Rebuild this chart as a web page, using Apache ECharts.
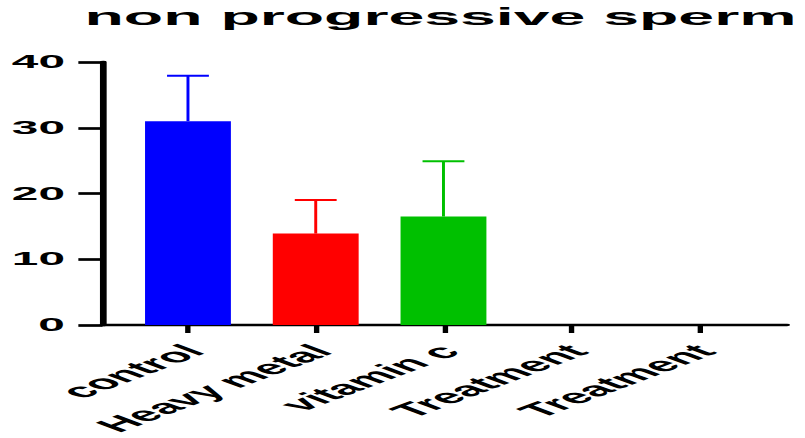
<!DOCTYPE html>
<html>
<head>
<meta charset="utf-8">
<script src="https://cdn.jsdelivr.net/npm/echarts@6/dist/echarts.min.js"></script>
<style>
  html, body { margin: 0; padding: 0; background: #fff; overflow: hidden; width: 805px; height: 438px; }
  #chart { width: 300px; height: 438px; transform: scaleX(2.6833); transform-origin: 0 0; }
</style>
</head>
<body>
<div id="chart"></div>
<script>
// ---- data ----
const titleText = 'non progressive sperm';
const categories = ['control', 'Heavy metal', 'vitamin c', 'Treatment', 'Treatment'];
const means = [31, 13.9, 16.5, 0, 0];
const errors = [6.9, 5.1, 8.4, 0, 0];
const yTicks = [0, 10, 20, 30, 40];
const palette = ['#0000FF', '#FF0000', '#00C000', '#000000', '#000000'];

const font = '"Liberation Sans", Arial, sans-serif';
const chart = echarts.init(document.getElementById('chart'), null, { renderer: 'svg' });

const catIdx = categories.map((_, i) => i);

const option = {
  animation: false,
  backgroundColor: '#fff',
  title: {
    text: titleText,
    left: 31.5,
    top: 5,
    padding: 0,
    textStyle: { fontFamily: font, fontWeight: 'bold', fontSize: 24, color: '#000' }
  },
  grid: { left: 38.2, right: 6.7, top: 62, bottom: 113, containLabel: false, outerBoundsMode: 'none' },
  xAxis: {
    type: 'value',
    min: -0.669,
    max: 4.689,
    splitLine: { show: false },
    axisLine: { show: true, onZero: false, lineStyle: { color: '#000', width: 2.3 } },
    axisTick: { show: true, customValues: catIdx, length: 8, lineStyle: { color: '#000', width: 2 } },
    axisLabel: {
      customValues: catIdx,
      formatter: v => categories[Math.round(v)],
      rotate: 45,
      margin: 25,
      padding: [0, -3, 0, 0],
      fontFamily: font,
      fontWeight: 'bold',
      fontSize: 19.5,
      color: '#000'
    }
  },
  yAxis: {
    type: 'value',
    min: yTicks[0],
    max: yTicks[yTicks.length - 1],
    interval: 10,
    splitLine: { show: false },
    axisLine: { show: true, onZero: false, lineStyle: { color: '#000', width: 2.5 } },
    axisTick: { show: true, length: 9, lineStyle: { color: '#000', width: 2.7 } },
    axisLabel: {
      margin: 14,
      fontFamily: font,
      fontWeight: 'bold',
      fontSize: 17.8,
      color: '#000',
      formatter: v => String(v)
    }
  },
  series: [
    {
      type: 'bar',
      barWidth: 32,
      data: means.map((v, i) => ({ value: [i, v], itemStyle: { color: palette[i] } })),
      z: 2
    },
    {
      type: 'custom',
      z: 3,
      data: means.map((v, i) => [i, v, errors[i]]),
      encode: { x: 0, y: 1 },
      renderItem: function (params, api) {
        const i = api.value(0), m = api.value(1), e = api.value(2);
        if (!e) return null;
        const c = palette[i];
        const p0 = api.coord([i, m]);
        const p1 = api.coord([i, m + e]);
        const half = 7.8;
        return {
          type: 'group',
          children: [
            { type: 'line', shape: { x1: p0[0], y1: p0[1], x2: p1[0], y2: p1[1] }, style: { stroke: c, lineWidth: 1.1 } },
            { type: 'line', shape: { x1: p1[0] - half, y1: p1[1], x2: p1[0] + half, y2: p1[1] }, style: { stroke: c, lineWidth: 2 } }
          ]
        };
      }
    }
  ]
};
chart.setOption(option);
</script>
</body>
</html>
